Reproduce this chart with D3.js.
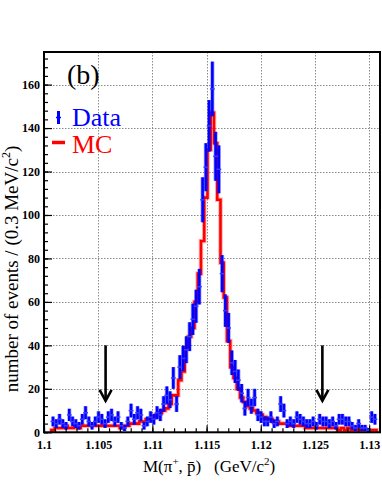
<!DOCTYPE html>
<html><head><meta charset="utf-8">
<script src="https://cdn.jsdelivr.net/npm/d3@7"></script>
<style>body{margin:0;background:#fff}svg{display:block}</style>
</head><body><svg id="c" width="382" height="494"></svg>
<script>
// ---- data ----
const binLow = 1.100683;
const binWidth = 0.0003;
const dataCounts = [5,4,6,4,3,8,5,4,3,6, 9,5,3,5,7,6,4,7,8,5,
  7,3,2,5,10,6,9,8,3,5, 7,6,9,8,13,17,15,25,13,30,
  34,38,44,52,58,67,107,122,141,158, 127,121,73,56,48,32,28,24,18,11,
  16,12,16,8,7,5,5,7,4,5, 13,10,4,5,4,7,6,5,4,4,
  5,3,6,5,5,4,5,3,6,6, 5,5,3,2,4,2,2,1,7,6];
const mcCounts = [1,2,2,2,3,2,2,3,2,3, 3,3,3,3,3,3,3,3,3,3,
  3,2,3,3,4,4,4,5,5,6, 6,7,8,9,10,11,13,17,17,24,
  28,39,44,48,60,73,88,108,130,147, 133,107,78,62,42,30,25,20,16,14,
  12,11,10,9,8,7,6,6,5,5, 4,4,4,3,3,3,3,3,2,2,
  2,2,2,2,2,2,2,2,1,2, 1,2,1,1,2,1,1,1,1,1];
const xDomain = [1.1, 1.131];
const yDomain = [0, 175];
const xTicks = [1.1, 1.105, 1.11, 1.115, 1.12, 1.125, 1.13];
const xTickLabels = ["1.1", "1.105", "1.11", "1.115", "1.12", "1.125", "1.13"];
const yTicks = [0, 20, 40, 60, 80, 100, 120, 140, 160];
const arrowMass = [1.105683, 1.125683];
const arrowRange = [40, 14.5];
const legendLabels = ["Data", "MC"];
const panelLabel = "(b)";

// ---- layout ----
const svg = d3.select("#c");
const L = 44, R = 380, T = 52, B = 432.3;
const x = d3.scaleLinear().domain(xDomain).range([L, R]);
const y = d3.scaleLinear().domain(yDomain).range([B, T]);
const serif = "'Liberation Serif','Times New Roman',serif";

svg.append("rect").attr("width", 382).attr("height", 494).attr("fill", "#fff");

// grid
const grid = svg.append("g").attr("stroke", "#8a8a8a").attr("stroke-width", 1).attr("stroke-dasharray", "1.5,1.5");
grid.selectAll(".gx").data(xTicks.slice(1)).join("line")
  .attr("x1", d => Math.round(x(d)) + 0.5).attr("x2", d => Math.round(x(d)) + 0.5)
  .attr("y1", T).attr("y2", B);
grid.selectAll(".gy").data(yTicks.slice(1)).join("line")
  .attr("y1", d => Math.round(y(d)) + 0.5).attr("y2", d => Math.round(y(d)) + 0.5)
  .attr("x1", L).attr("x2", R);

// MC histogram (step)
const edges = d3.range(dataCounts.length + 1).map(i => binLow + i * binWidth);
let pts = [[x(edges[0]), y(0)]];
mcCounts.forEach((v, i) => { pts.push([x(edges[i]), y(v)]); pts.push([x(edges[i + 1]), y(v)]); });
pts.push([x(edges[edges.length - 1]), y(0)]);
const line = d3.line();
svg.append("path").attr("d", line(pts)).attr("fill", "none")
  .attr("stroke", "rgba(255,0,0,0.3)").attr("stroke-width", 4.5).attr("stroke-linejoin", "miter");
svg.append("path").attr("d", line(pts)).attr("fill", "none")
  .attr("stroke", "#ff0000").attr("stroke-width", 2.6).attr("stroke-linejoin", "miter");

// Data points with error bars
const dg = svg.append("g");
const dpts = dataCounts.map((v, i) => ({c: binLow + (i + 0.5) * binWidth, v, e: Math.sqrt(v)}));
dg.selectAll(".halo").data(dpts).join("line")
  .attr("x1", d => x(d.c)).attr("x2", d => x(d.c))
  .attr("y1", d => y(d.v + d.e)).attr("y2", d => Math.min(y(Math.max(d.v - d.e, 0)), B))
  .attr("stroke", "rgba(0,0,255,0.35)").attr("stroke-width", 4.2);
dg.selectAll(".bar").data(dpts).join("line")
  .attr("x1", d => x(d.c)).attr("x2", d => x(d.c))
  .attr("y1", d => y(d.v + d.e)).attr("y2", d => Math.min(y(Math.max(d.v - d.e, 0)), B))
  .attr("stroke", "#0000ff").attr("stroke-width", 2.6);
dg.selectAll(".mk").data(dpts).join("line")
  .attr("x1", d => x(d.c) - 2.4).attr("x2", d => x(d.c) + 2.4)
  .attr("y1", d => y(d.v)).attr("y2", d => y(d.v))
  .attr("stroke", "#3a3aff").attr("stroke-width", 1.5);

// arrows
const ag = svg.append("g").attr("stroke", "#000").attr("stroke-width", 2.6).attr("fill", "none");
arrowMass.forEach(m => {
  const ax = x(m), y0 = y(arrowRange[0]), y1 = y(arrowRange[1]);
  ag.append("line").attr("x1", ax).attr("x2", ax).attr("y1", y0).attr("y2", y1 - 1);
  ag.append("path").attr("d", `M${ax - 6},${y1 - 11}L${ax},${y1}L${ax + 6},${y1 - 11}`);
});

// axes
const yAxis = d3.axisLeft(y).tickValues(yTicks).tickSize(-8).tickPadding(4).tickFormat(d3.format("d"));
const yMinor = d3.axisLeft(y).tickValues(d3.range(0, 176, 4)).tickSize(-4).tickFormat("");
const xAxis = d3.axisBottom(x).tickValues(xTicks).tickSize(-7).tickPadding(8.5).tickFormat((d, i) => xTickLabels[i]);
const xMinor = d3.axisBottom(x).tickValues(d3.range(0, 31).map(k => 1.1 + k * 0.001)).tickSize(-4).tickFormat("");

function styleAxis(g) {
  g.select(".domain").remove();
  g.selectAll("line").attr("stroke", "#000").attr("stroke-width", 1.2);
  g.selectAll("text").attr("font-family", serif).attr("font-weight", "bold").attr("font-size", 12).attr("fill", "#000");
}
svg.append("g").attr("transform", `translate(${L},0)`).call(yMinor).call(styleAxis);
svg.append("g").attr("transform", `translate(${L},0)`).call(yAxis).call(styleAxis);
svg.append("g").attr("transform", `translate(0,${B})`).call(xMinor).call(styleAxis);
svg.append("g").attr("transform", `translate(0,${B})`).call(xAxis).call(styleAxis);

// frame
svg.append("rect").attr("x", L).attr("y", T).attr("width", R - L).attr("height", B - T)
  .attr("fill", "none").attr("stroke", "#000").attr("stroke-width", 2);

// axis titles
const xt = svg.append("text").attr("x", 143).attr("y", 472).attr("font-family", serif).attr("font-size", 17)
  .attr("fill", "#000").attr("xml:space", "preserve").style("white-space", "pre");
xt.append("tspan").text("M(\u03c0");
xt.append("tspan").attr("font-size", 11).attr("dy", -7).text("+");
xt.append("tspan").attr("dy", 7).text(", p\u0304)   (GeV/c");
xt.append("tspan").attr("font-size", 11).attr("dy", -7).text("2");
xt.append("tspan").attr("dy", 7).text(")");

const yt = svg.append("text").attr("transform", "translate(18,269) rotate(-90)").attr("text-anchor", "middle")
  .attr("font-family", serif).attr("font-size", 19).attr("fill", "#000");
yt.append("tspan").text("number of events / (0.3 MeV/c");
yt.append("tspan").attr("font-size", 12).attr("dy", -8).text("2");
yt.append("tspan").attr("dy", 8).text(")");

// panel label & legend
svg.append("text").attr("x", 67).attr("y", 84).attr("font-family", serif).attr("font-size", 28).text(panelLabel);
svg.append("line").attr("x1", 58.5).attr("x2", 58.5).attr("y1", 111).attr("y2", 124).attr("stroke", "#0000ff").attr("stroke-width", 3);
svg.append("line").attr("x1", 56).attr("x2", 61).attr("y1", 117.5).attr("y2", 117.5).attr("stroke", "#0000ff").attr("stroke-width", 1.5);
svg.append("text").attr("x", 72).attr("y", 126).attr("font-family", serif).attr("font-size", 26).attr("fill", "#0000ff").text(legendLabels[0]);
svg.append("line").attr("x1", 52).attr("x2", 65).attr("y1", 142.5).attr("y2", 142.5).attr("stroke", "#ff0000").attr("stroke-width", 3.5);
svg.append("text").attr("x", 72).attr("y", 153).attr("font-family", serif).attr("font-size", 26).attr("fill", "#ff0000").text(legendLabels[1]);
</script></body></html>
